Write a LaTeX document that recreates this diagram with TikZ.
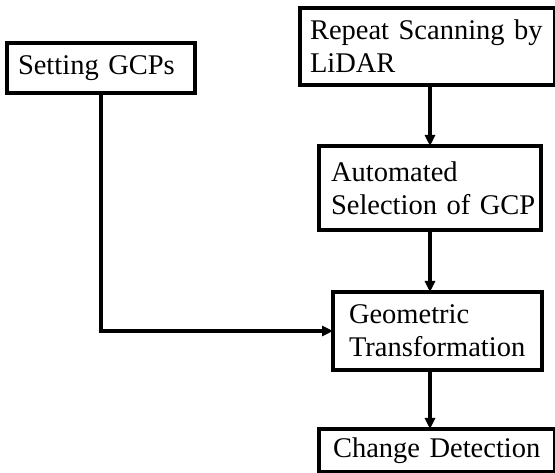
\documentclass[tikz,border=0pt]{standalone}
\usepackage{fontspec}
\setmainfont{Liberation Serif}
\usetikzlibrary{arrows.meta}

\begin{document}
\begin{tikzpicture}[x=1pt, y=-1pt,
    box/.style={draw, line width=3.4pt, align=left, inner ysep=0pt, outer sep=0pt,
        font=\fontsize{28.5}{33}\selectfont,
        execute at begin node={\hyphenpenalty=10000\exhyphenpenalty=10000}},
    flow/.style={-{Triangle[length=11pt,width=10pt]}, line width=3.2pt}]
    % page frame
    \useasboundingbox (0,0) rectangle (555,473);

    % Boxes
    \node[box, inner xsep=11pt, text width=166pt, minimum height=50pt] (gcp) at (101, 68) {Setting~GCPs};
    \node[box, inner xsep=10pt, text width=235pt, minimum height=77pt] (lidar) at (427.5, 46.5) {Repeat~Scanning~by\\LiDAR};
    \node[box, inner xsep=12pt, text width=198pt, minimum height=84pt] (sel) at (430, 188) {Automated\\Selection~of~GCP};
    \node[box, inner xsep=16pt, text width=177pt, minimum height=78pt] (geo) at (437.5, 331) {Geometric\\Transformation};
    \node[box, inner xsep=14pt, text width=208pt, minimum height=43pt] (chg) at (437, 450.5) {Change~Detection};

    % Arrows
    \draw[flow] (lidar.south -| sel.north) -- (sel.north);
    \draw[flow] (sel.south) -- (geo.north -| sel.south);
    \draw[flow] (geo.south -| sel.south) -- (chg.north -| sel.south);
    \draw[flow] (gcp.south) |- (geo.west);
\end{tikzpicture}
\end{document}
